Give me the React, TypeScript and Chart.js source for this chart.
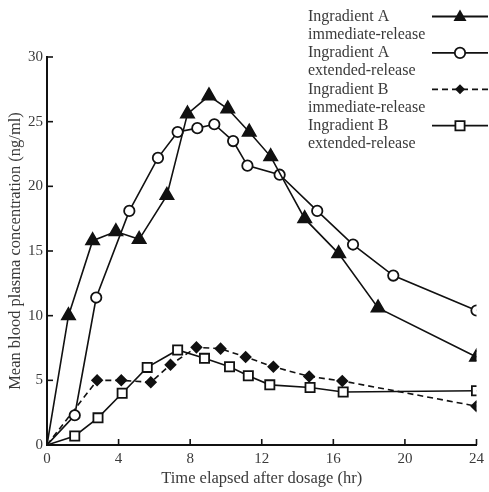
import React, { useEffect, useRef } from "react";
import { Chart, registerables } from "chart.js";

Chart.register(...registerables);

// ---- Data ----
const aIrX = [0, 1.2, 2.55, 3.85, 5.15, 6.7, 7.85, 9.05, 10.1, 11.3, 12.5, 14.4, 16.3, 18.5, 24];
const aIrY = [0, 10.0, 15.8, 16.5, 15.9, 19.3, 25.6, 27.0, 26.0, 24.2, 22.3, 17.5, 14.8, 10.6, 6.8];

const aErX = [0, 1.55, 2.75, 4.6, 6.2, 7.3, 8.4, 9.35, 10.4, 11.2, 13.0, 15.1, 17.1, 19.35, 24];
const aErY = [0, 2.3, 11.4, 18.1, 22.2, 24.2, 24.5, 24.8, 23.5, 21.6, 20.9, 18.1, 15.5, 13.1, 10.4];

const bIrX = [0, 2.8, 4.15, 5.8, 6.9, 8.35, 9.7, 11.1, 12.65, 14.65, 16.5, 24];
const bIrY = [0, 5.0, 5.0, 4.85, 6.2, 7.55, 7.45, 6.8, 6.05, 5.3, 4.95, 3.0];

const bErX = [0, 1.55, 2.85, 4.2, 5.6, 7.3, 8.8, 10.2, 11.25, 12.45, 14.7, 16.55, 24];
const bErY = [0, 0.7, 2.1, 4.0, 6.0, 7.35, 6.7, 6.05, 5.35, 4.65, 4.45, 4.1, 4.2];

const legendLabels = [
  ["Ingradient A", "immediate-release"],
  ["Ingradient A", "extended-release"],
  ["Ingradient B", "immediate-release"],
  ["Ingradient B", "extended-release"],
];

const xTitle = "Time elapsed after dosage (hr)";
const yTitle = "Mean blood plasma concentration (ng/ml)";
const xMax = 24;
const xStep = 4;
const yMax = 30;
const yStep = 5;

const FONT = '"Liberation Serif", "Times New Roman", serif';
const INK = "#111";
const TEXT = "#3a3a3a";

const toPts = (xs: number[], ys: number[]) => xs.map((x, i) => ({ x, y: ys[i] }));

type Marker = "triangle" | "circle" | "diamond" | "square";
const markers: Marker[] = ["triangle", "circle", "diamond", "square"];
const dashes: number[][] = [[], [], [6, 4], []];

function drawMarker(ctx: CanvasRenderingContext2D, m: Marker, x: number, y: number) {
  ctx.save();
  ctx.lineWidth = 1.8;
  ctx.strokeStyle = INK;
  ctx.setLineDash([]);
  ctx.beginPath();
  if (m === "triangle") {
    ctx.moveTo(x, y - 7);
    ctx.lineTo(x + 6.5, y + 4.5);
    ctx.lineTo(x - 6.5, y + 4.5);
    ctx.closePath();
    ctx.fillStyle = INK;
    ctx.fill();
  } else if (m === "circle") {
    ctx.arc(x, y, 5.2, 0, Math.PI * 2);
    ctx.fillStyle = "#fff";
    ctx.fill();
    ctx.stroke();
  } else if (m === "diamond") {
    ctx.moveTo(x, y - 5);
    ctx.lineTo(x + 5, y);
    ctx.lineTo(x, y + 5);
    ctx.lineTo(x - 5, y);
    ctx.closePath();
    ctx.fillStyle = INK;
    ctx.fill();
  } else {
    ctx.rect(x - 4.6, y - 4.6, 9.2, 9.2);
    ctx.fillStyle = "#fff";
    ctx.fill();
    ctx.stroke();
  }
  ctx.restore();
}

const decorPlugin = {
  id: "decor",
  afterDraw(chart: any) {
    const ctx: CanvasRenderingContext2D = chart.ctx;
    const xs = chart.scales.x;
    const ys = chart.scales.y;
    ctx.save();
    ctx.strokeStyle = INK;
    ctx.lineWidth = 1.6;
    // inward tick marks
    xs.ticks.forEach((t: any) => {
      const px = xs.getPixelForValue(t.value);
      ctx.beginPath();
      ctx.moveTo(px, xs.top);
      ctx.lineTo(px, xs.top - 6);
      ctx.stroke();
    });
    ys.ticks.forEach((t: any) => {
      const py = ys.getPixelForValue(t.value);
      ctx.beginPath();
      ctx.moveTo(ys.right, py);
      ctx.lineTo(ys.right + 6, py);
      ctx.stroke();
    });

    // legend
    const textX = 308;
    const symX0 = 432;
    const symX1 = 488;
    const firstY = 16.5;
    const entryGap = 36.4;
    const lineGap = 18.2;
    ctx.font = `16px ${FONT}`;
    ctx.fillStyle = TEXT;
    ctx.textAlign = "left";
    ctx.textBaseline = "middle";
    legendLabels.forEach((lines, i) => {
      const y0 = firstY + i * entryGap;
      lines.forEach((s, j) => ctx.fillText(s, textX, y0 + j * lineGap));
      ctx.save();
      ctx.strokeStyle = INK;
      ctx.lineWidth = 1.8;
      ctx.setLineDash(dashes[i]);
      ctx.beginPath();
      ctx.moveTo(symX0, y0);
      ctx.lineTo(symX1, y0);
      ctx.stroke();
      ctx.restore();
      drawMarker(ctx, markers[i], (symX0 + symX1) / 2, y0);
    });
    ctx.restore();
  },
};

export default function App() {
  const ref = useRef<HTMLCanvasElement | null>(null);

  useEffect(() => {
    if (!ref.current) return;
    const series = [toPts(aIrX, aIrY), toPts(aErX, aErY), toPts(bIrX, bIrY), toPts(bErX, bErY)];
    const styles: any[] = [
      { pointStyle: "triangle", pointRadius: 7.5, pointBackgroundColor: INK },
      { pointStyle: "circle", pointRadius: 5.2, pointBackgroundColor: "#fff" },
      { pointStyle: "rectRot", pointRadius: 5, pointBackgroundColor: INK },
      { pointStyle: "rect", pointRadius: 6.5, pointBackgroundColor: "#fff" },
    ];
    const datasets = series.map((data, i) => ({
      label: legendLabels[i].join(" "),
      data,
      borderColor: INK,
      borderWidth: 1.6,
      borderDash: dashes[i],
      pointBorderColor: INK,
      pointBorderWidth: 1.8,
      ...styles[i],
      pointRadius: (c: any) => (c.dataIndex === 0 ? 0 : styles[i].pointRadius),
      tension: 0,
      fill: false,
    }));

    const chart = new Chart(ref.current, {
      type: "line",
      data: { datasets },
      options: {
        animation: false,
        responsive: false,
        devicePixelRatio: 1,
        layout: { padding: { top: 57, right: 8, left: 0, bottom: 0 } },
        plugins: { legend: { display: false }, tooltip: { enabled: false } },
        scales: {
          x: {
            type: "linear",
            min: 0,
            max: xMax,
            grid: { display: false, drawTicks: false },
            border: { display: true, color: INK, width: 2 },
            ticks: {
              stepSize: xStep,
              padding: 5,
              color: TEXT,
              font: { family: FONT, size: 15 },
              maxRotation: 0,
            },
            title: {
              display: true,
              text: xTitle,
              color: TEXT,
              font: { family: FONT, size: 16.5 },
              padding: { top: 0, bottom: 3 },
            },
            afterFit: (s: any) => {
              s.height = 47;
            },
          },
          y: {
            type: "linear",
            min: 0,
            max: yMax,
            grid: { display: false, drawTicks: false },
            border: { display: true, color: INK, width: 2 },
            ticks: {
              stepSize: yStep,
              padding: 4,
              color: TEXT,
              font: { family: FONT, size: 15 },
            },
            title: {
              display: true,
              text: yTitle,
              color: TEXT,
              font: { family: FONT, size: 16.5 },
              padding: { top: 6, bottom: 0 },
            },
            afterFit: (s: any) => {
              s.width = 47;
            },
          },
        },
      },
      plugins: [decorPlugin],
    });
    return () => chart.destroy();
  }, []);

  return (
    <div style={{ position: "absolute", left: 0, top: 0, width: 489, height: 492, background: "#fff" }}>
      <canvas ref={ref} width={489} height={492} />
    </div>
  );
}
